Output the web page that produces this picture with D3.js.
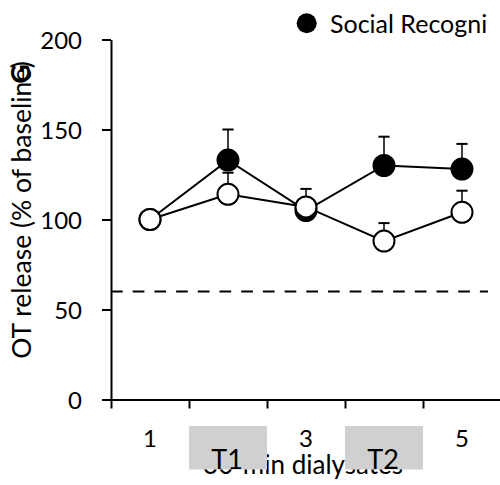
<!DOCTYPE html>
<html>
<head>
<meta charset="utf-8">
<script src="https://cdn.jsdelivr.net/npm/d3@7"></script>
<style>
  html, body { margin: 0; padding: 0; background: #fff; }
  svg { display: block; }
  text { font-family: Lato, "Open Sans", sans-serif; fill: #000; }
</style>
</head>
<body>
<div id="chart"></div>
<script>
// 30-min dialysate samples
const samples = [1, 2, 3, 4, 5];
// Social recognition group (filled circles): mean and upper SEM
const socialMean = [100, 133, 105, 130, 128];
const socialErr  = [0, 17, 7, 16, 14];
// Control group (open circles): mean and upper SEM
const controlMean = [100, 114, 107, 88, 104];
const controlErr  = [0, 12, 10, 10, 12];
// Axis ticks and labels
const yTicks = [0, 50, 100, 150, 200];
const xBoundaries = [0.5, 1.5, 2.5, 3.5, 4.5];
const xLabels = [1, 3, 5];
// Test sessions shown as shaded sample labels
const sessions = [{ name: "T1", sample: 2 }, { name: "T2", sample: 4 }];
const referenceLevel = 60;
const legendLabel = "Social Recogni";

const W = 500, H = 485;
const svg = d3.select("#chart").append("svg").attr("width", W).attr("height", H);

const x = d3.scaleLinear().domain([0.5, 5.5]).range([111, 501]);
const y = d3.scaleLinear().domain([0, 200]).range([399.5, 39.5]);

// Y axis
const yAxis = svg.append("g").attr("transform", "translate(111,0)")
  .call(d3.axisLeft(y).tickValues(yTicks).tickSize(9).tickSizeOuter(0).tickPadding(20));
yAxis.select(".domain").attr("stroke", "#000").attr("stroke-width", 2);
yAxis.selectAll(".tick line").attr("stroke", "#000").attr("stroke-width", 2);
yAxis.selectAll(".tick text").attr("font-size", 24).attr("font-family", "Lato, sans-serif").attr("dy", "0.36em");

// X axis (sample boundaries)
const xAxis = svg.append("g").attr("transform", "translate(0,399.5)")
  .call(d3.axisBottom(x).tickValues(xBoundaries).tickSize(9).tickSizeOuter(0).tickFormat(""));
xAxis.select(".domain").attr("stroke", "#000").attr("stroke-width", 2);
xAxis.selectAll(".tick line").attr("stroke", "#000").attr("stroke-width", 2);

// Sample numbers
svg.append("g").selectAll("text").data(xLabels).join("text")
  .attr("x", d => x(d)).attr("y", 447)
  .attr("text-anchor", "middle").attr("font-size", 24)
  .text(d => d);

// X axis title (partly hidden behind the session boxes)
svg.append("text")
  .attr("x", 303).attr("y", 474)
  .attr("text-anchor", "middle").attr("font-size", 26)
  .text("30-min dialysates");

// Session boxes
const sess = svg.append("g").selectAll("g").data(sessions).join("g");
sess.append("rect")
  .attr("x", d => x(d.sample - 0.5)).attr("y", 426)
  .attr("width", d => x(d.sample + 0.5) - x(d.sample - 0.5)).attr("height", 43.5)
  .attr("fill", "#d0d0d0");
sess.append("text")
  .attr("x", d => x(d.sample) - 1).attr("y", 469)
  .attr("text-anchor", "middle").attr("font-size", 27)
  .text(d => d.name);

// Y axis title
svg.append("text")
  .attr("transform", "translate(31,210) rotate(-90)")
  .attr("text-anchor", "middle").attr("font-size", 26.5)
  .text("OT release (% of baseline)");

// Panel letter
svg.append("text")
  .attr("transform", "translate(30,74) rotate(-90)")
  .attr("text-anchor", "middle").attr("font-size", 27).attr("font-weight", "bold")
  .text("G");

// Dashed reference line
svg.append("line")
  .attr("x1", x(0.5)).attr("x2", 488)
  .attr("y1", y(referenceLevel)).attr("y2", y(referenceLevel))
  .attr("stroke", "#000").attr("stroke-width", 2)
  .attr("stroke-dasharray", "11.7,10");

function drawSeries(mean, err, fill) {
  const g = svg.append("g");
  const pts = samples.map((s, i) => ({ s, m: mean[i], e: err[i] }));
  g.append("path")
    .attr("d", d3.line().x(d => x(d.s)).y(d => y(d.m))(pts))
    .attr("fill", "none").attr("stroke", "#000").attr("stroke-width", 2);
  const eb = g.append("g").selectAll("g").data(pts.filter(d => d.e > 0)).join("g");
  eb.append("line")
    .attr("x1", d => x(d.s)).attr("x2", d => x(d.s))
    .attr("y1", d => y(d.m)).attr("y2", d => y(d.m + d.e))
    .attr("stroke", "#000").attr("stroke-width", 1.5);
  eb.append("line")
    .attr("x1", d => x(d.s) - 5.6).attr("x2", d => x(d.s) + 5.6)
    .attr("y1", d => y(d.m + d.e)).attr("y2", d => y(d.m + d.e))
    .attr("stroke", "#000").attr("stroke-width", 2);
  g.append("g").selectAll("circle").data(pts).join("circle")
    .attr("cx", d => x(d.s)).attr("cy", d => y(d.m)).attr("r", 10.5)
    .attr("fill", fill).attr("stroke", "#000").attr("stroke-width", 2);
}
drawSeries(socialMean, socialErr, "#000");
drawSeries(controlMean, controlErr, "#fff");

// Legend
svg.append("circle").attr("cx", 306.7).attr("cy", 23.3).attr("r", 10).attr("fill", "#000");
svg.append("text").attr("x", 330).attr("y", 33.3).attr("font-size", 25).text(legendLabel);
</script>
</body>
</html>
